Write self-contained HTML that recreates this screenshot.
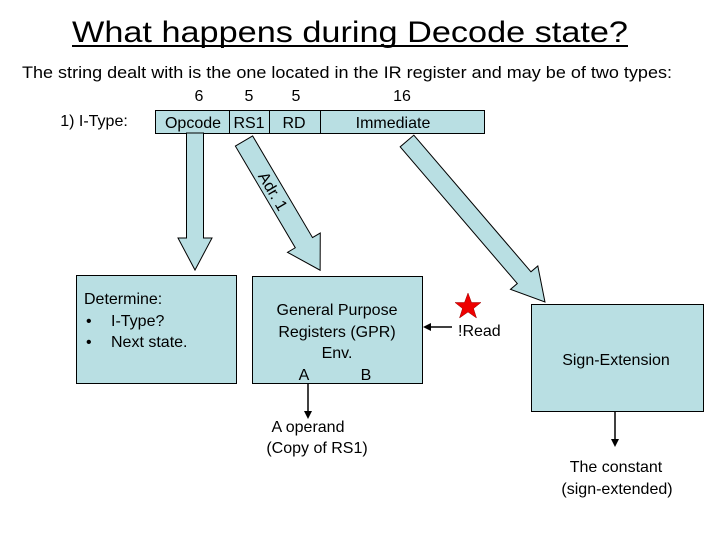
<!DOCTYPE html>
<html><head><meta charset="utf-8"><style>
body{margin:0;background:#fff;}
svg{display:block;font-family:"Liberation Sans",Arial,sans-serif;}
</style></head><body>
<svg width="720" height="540" viewBox="0 0 720 540" xmlns="http://www.w3.org/2000/svg">
<text x="72" y="42" font-size="30" textLength="556" lengthAdjust="spacingAndGlyphs" fill="#000">What happens during Decode state?</text>
<line x1="72" y1="46" x2="628" y2="46" stroke="#000" stroke-width="2"/>
<text x="22" y="78" font-size="17" textLength="650" lengthAdjust="spacingAndGlyphs">The string dealt with is the one located in the IR register and may be of two types:</text>
<g font-size="16" text-anchor="middle">
<text x="199" y="101">6</text><text x="249" y="101">5</text><text x="296" y="101">5</text><text x="402" y="101">16</text>
<text x="94" y="126">1) I-Type:</text>
</g>
<rect x="155.5" y="110.5" width="329" height="23" fill="#b9dfe3" stroke="#000"/>
<line x1="229.5" y1="110" x2="229.5" y2="133" stroke="#000"/>
<line x1="269.5" y1="110" x2="269.5" y2="133" stroke="#000"/>
<line x1="320.5" y1="110" x2="320.5" y2="133" stroke="#000"/>
<g font-size="16" text-anchor="middle">
<text x="193" y="128">Opcode</text><text x="249" y="128">RS1</text><text x="294" y="128">RD</text><text x="393" y="128">Immediate</text>
</g>
<g fill="#b9dfe3" stroke="#000" stroke-width="1">
<g transform="translate(195,133) rotate(90)"><polygon points="0,-8.5 105,-8.5 105,-17 137,0 105,17 105,8.5 0,8.5"/></g>
<g transform="translate(244,141) rotate(59.5)"><polygon points="0,-10 118,-10 118,-19 150,0 118,19 118,10 0,10"/>
<text x="58" y="6" font-size="16" fill="#000" stroke="none" text-anchor="middle">Adr. 1</text></g>
<g transform="translate(407,141) rotate(49.4)"><polygon points="0,-9 180,-9 180,-18 212,0 180,18 180,9 0,9"/></g>
</g>
<rect x="76.5" y="275.5" width="160" height="108" fill="#b9dfe3" stroke="#000"/>
<g font-size="16">
<text x="84" y="304">Determine:</text>
<text x="86" y="326">•</text><text x="111" y="326">I-Type?</text>
<text x="86" y="347">•</text><text x="111" y="347">Next state.</text>
</g>
<rect x="252.5" y="276.5" width="170" height="107" fill="#b9dfe3" stroke="#000"/>
<g font-size="16" text-anchor="middle">
<text x="337" y="315">General Purpose</text>
<text x="337" y="337">Registers (GPR)</text>
<text x="337" y="358">Env.</text>
<text x="304" y="380">A</text><text x="366" y="380">B</text>
<text x="308" y="432">A operand</text>
<text x="317" y="453">(Copy of RS1)</text>
</g>
<line x1="308" y1="384" x2="308" y2="412" stroke="#000" stroke-width="1.5"/>
<polygon points="304,411 312,411 308,419" fill="#000"/>
<line x1="452" y1="327" x2="430" y2="327" stroke="#000" stroke-width="1.5"/>
<polygon points="431,323 431,331 423,327" fill="#000"/>
<polygon points="468,293 471.5,302.5 481,302.5 473.5,308.5 476.5,318 468,312 459.5,318 462.5,308.5 455,302.5 464.5,302.5" fill="#e00" stroke="#900" stroke-width="0.5"/>
<text x="458" y="336" font-size="16">!Read</text>
<rect x="531.5" y="304.5" width="172" height="107" fill="#b9dfe3" stroke="#000"/>
<text x="616" y="365" font-size="16" text-anchor="middle">Sign-Extension</text>
<line x1="615" y1="412" x2="615" y2="440" stroke="#000" stroke-width="1.5"/>
<polygon points="611,439 619,439 615,447" fill="#000"/>
<g font-size="16" text-anchor="middle">
<text x="616" y="472">The constant</text>
<text x="617" y="494">(sign-extended)</text>
</g>
</svg>
</body></html>
